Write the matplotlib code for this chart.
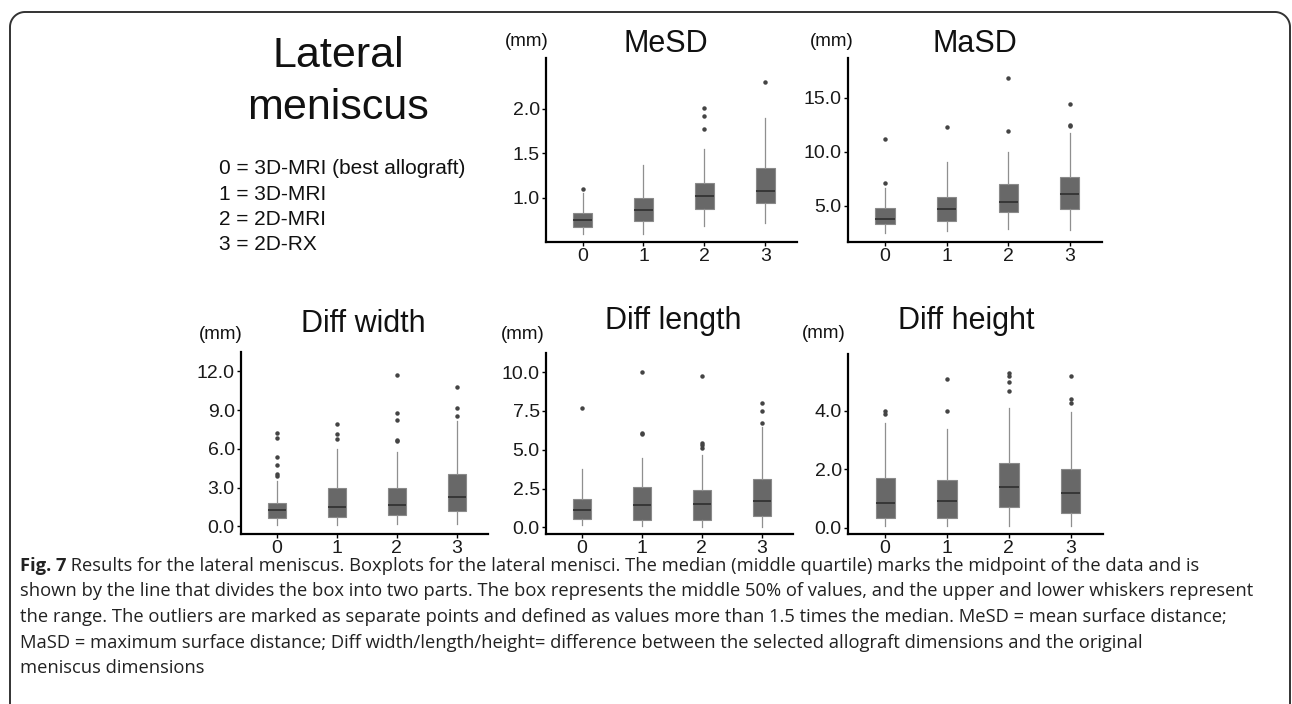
import numpy as np
import matplotlib
matplotlib.use("Agg")
import matplotlib.pyplot as plt

plt.rcParams['font.family'] = ['Liberation Sans', 'DejaVu Sans']

groups = [0, 1, 2, 3]
group_labels = ["0", "1", "2", "3"]

# box statistics (mm)
mesd_whislo = [0.60, 0.60, 0.69, 0.715]
mesd_q1 = [0.67, 0.745, 0.875, 0.94]
mesd_med = [0.753, 0.865, 1.02, 1.08]
mesd_q3 = [0.83, 1.00, 1.165, 1.335]
mesd_whishi = [1.056, 1.37, 1.55, 1.895]
mesd_fliers = [[1.10], [], [2.01, 1.92, 1.77], [2.30]]

masd_whislo = [2.5, 2.66, 2.81, 2.75]
masd_q1 = [3.28, 3.61, 4.44, 4.72]
masd_med = [3.77, 4.67, 5.37, 6.06]
masd_q3 = [4.76, 5.83, 7.04, 7.66]
masd_whishi = [6.67, 9.07, 10.0, 11.7]
masd_fliers = [[11.18, 7.13], [12.31], [16.85, 11.94], [14.48, 12.5, 12.35]]

width_whislo = [0.1, 0.1, 0.15, 0.15]
width_q1 = [0.65, 0.75, 0.9, 1.22]
width_med = [1.27, 1.53, 1.68, 2.28]
width_q3 = [1.81, 2.95, 2.95, 4.06]
width_whishi = [3.52, 6.02, 5.79, 8.15]
width_fliers = [[7.26, 6.85, 5.36, 4.74, 4.01, 3.9], [7.94, 7.16, 6.75],
                [11.74, 8.77, 8.25, 6.70, 6.6], [10.75, 9.15, 8.56]]

length_whislo = [0.13, 0.06, 0.05, 0.05]
length_q1 = [0.52, 0.45, 0.45, 0.76]
length_med = [1.1, 1.47, 1.5, 1.68]
length_q3 = [1.85, 2.58, 2.39, 3.1]
length_whishi = [3.77, 4.48, 4.67, 6.48]
length_fliers = [[7.69], [10.0, 6.1, 6.0], [9.77, 5.45, 5.3, 5.08], [7.99, 7.51, 6.7]]

height_whislo = [0.05, 0.05, 0.04, 0.04]
height_q1 = [0.32, 0.32, 0.7, 0.5]
height_med = [0.84, 0.91, 1.39, 1.2]
height_q3 = [1.7, 1.62, 2.2, 2.0]
height_whishi = [3.59, 3.37, 4.08, 3.97]
height_fliers = [[4.0, 3.88], [5.08, 3.99], [5.28, 5.2, 4.97, 4.69], [5.2, 4.4, 4.27]]

legend_lines = ["0 = 3D-MRI (best allograft)", "1 = 3D-MRI", "2 = 2D-MRI", "3 = 2D-RX"]

caption_lines = [
    " Results for the lateral meniscus. Boxplots for the lateral menisci. The median (middle quartile) marks the midpoint of the data and is",
    "shown by the line that divides the box into two parts. The box represents the middle 50% of values, and the upper and lower whiskers represent",
    "the range. The outliers are marked as separate points and defined as values more than 1.5 times the median. MeSD = mean surface distance;",
    "MaSD = maximum surface distance; Diff width/length/height= difference between the selected allograft dimensions and the original",
    "meniscus dimensions",
]

W, H = 1292, 704
fig = plt.figure(figsize=(W / 100, H / 100), dpi=100)
fig.patch.set_facecolor("white")

# background axes in pixel coordinates for frame and free text
bg = fig.add_axes([0, 0, 1, 1])
bg.set_xlim(0, W)
bg.set_ylim(H, 0)
bg.axis("off")

# rounded frame, open at the bottom
r = 15
t = np.linspace(0, np.pi / 2, 20)
fx = np.concatenate([[10], 10 + r - r * np.cos(t), W - 2 - r + r * np.sin(t), [W - 2]])
fy = np.concatenate([[H + 5], 12 + r - r * np.sin(t), 12 + r - r * np.cos(t), [H + 5]])
bg.plot(fx, fy, color="#333333", lw=1.4, clip_on=False)


def make_stats(whislo, q1, med, q3, whishi, fliers):
    return [dict(whislo=a, q1=b, med=c, q3=d, whishi=e, fliers=f)
            for a, b, c, d, e, f in zip(whislo, q1, med, q3, whishi, fliers)]


def box_panel(rect, stats, ylim, yticks, yticklabels):
    x0, y0, x1, y1 = rect
    ax = fig.add_axes([x0 / W, 1 - y1 / H, (x1 - x0) / W, (y1 - y0) / H])
    ax.bxp(stats, positions=groups, widths=0.31, showcaps=False, patch_artist=True,
           boxprops=dict(facecolor="#686868", edgecolor="#8a8a8a", linewidth=0.8),
           medianprops=dict(color="#333333", linewidth=1.3),
           whiskerprops=dict(color="#8f8f8f", linewidth=0.9),
           flierprops=dict(marker="o", markersize=2.2, markerfacecolor="#444444",
                           markeredgecolor="#444444"))
    ax.set_xlim(-0.6, 3.52)
    ax.set_ylim(*ylim)
    ax.set_xticks(groups)
    ax.set_xticklabels(group_labels)
    ax.set_yticks(yticks)
    ax.set_yticklabels(yticklabels)
    for s in ["top", "right"]:
        ax.spines[s].set_visible(False)
    for s in ["left", "bottom"]:
        ax.spines[s].set_linewidth(1.6)
        ax.spines[s].set_color("black")
    ax.tick_params(length=3, width=1, labelsize=14, labelcolor="#1a1a1a", pad=1.5)
    ax.set_facecolor("none")
    return ax


box_panel((546, 58, 797, 242),
          make_stats(mesd_whislo, mesd_q1, mesd_med, mesd_q3, mesd_whishi, mesd_fliers),
          (0.505, 2.57), [1.0, 1.5, 2.0], ["1.0", "1.5", "2.0"])
box_panel((848, 58, 1102, 242),
          make_stats(masd_whislo, masd_q1, masd_med, masd_q3, masd_whishi, masd_fliers),
          (1.64, 18.7), [5, 10, 15], ["5.0", "10.0", "15.0"])
box_panel((241, 352, 488, 534),
          make_stats(width_whislo, width_q1, width_med, width_q3, width_whishi, width_fliers),
          (-0.6, 13.5), [0, 3, 6, 9, 12], ["0.0", "3.0", "6.0", "9.0", "12.0"])
box_panel((546, 353, 793, 534),
          make_stats(length_whislo, length_q1, length_med, length_q3, length_whishi, length_fliers),
          (-0.43, 11.23), [0, 2.5, 5, 7.5, 10], ["0.0", "2.5", "5.0", "7.5", "10.0"])
box_panel((848, 354, 1103, 534),
          make_stats(height_whislo, height_q1, height_med, height_q3, height_whishi, height_fliers),
          (-0.22, 5.94), [0, 2, 4], ["0.0", "2.0", "4.0"])

# panel titles and unit labels
titles = [("MeSD", 666, 52), ("MaSD", 975, 52), ("Diff width", 363, 332),
          ("Diff length", 673, 329), ("Diff height", 966, 329)]
for txt, x, y in titles:
    bg.text(x, y, txt, fontsize=22, ha="center", va="baseline", color="#111111")
units = [(527, 46), (832, 46), (221, 339), (523, 339), (824, 338)]
for x, y in units:
    bg.text(x, y, "(mm)", fontsize=13.5, ha="center", va="baseline", color="#111111")

bg.text(338, 67, "Lateral", fontsize=31, ha="center", va="baseline", color="#111111")
bg.text(338, 119, "meniscus", fontsize=31, ha="center", va="baseline", color="#111111")
for i, line in enumerate(legend_lines):
    bg.text(219, 174 + i * 25.5, line, fontsize=15, ha="left", va="baseline", color="#111111")

# caption
cap_font = ['Open Sans', 'DejaVu Sans']
cap_y = 571
fig.canvas.draw()
renderer = fig.canvas.get_renderer()
b = bg.text(20, cap_y, "Fig. 7", fontsize=13.2, fontweight="bold", family=cap_font,
            ha="left", va="baseline", color="#222222")
ext = b.get_window_extent(renderer=renderer)
x_after = ext.x1
for i, line in enumerate(caption_lines):
    if i == 0:
        fig.text(x_after / W, 1 - cap_y / H, line, fontsize=13.2, family=cap_font,
                 ha="left", va="baseline", color="#222222")
    else:
        bg.text(20, cap_y + i * 25.5, line, fontsize=13.2, family=cap_font,
                ha="left", va="baseline", color="#222222")

fig.savefig("out.png", dpi=100)
